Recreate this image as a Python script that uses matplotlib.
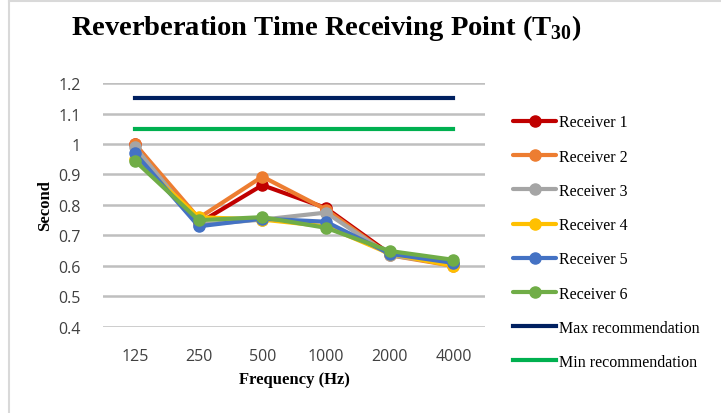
import matplotlib
matplotlib.use("Agg")
import matplotlib.pyplot as plt
from matplotlib.lines import Line2D

# data
frequencies = ["125", "250", "500", "1000", "2000", "4000"]
receiver_1 = [1.00, 0.74, 0.865, 0.79, 0.640, 0.605]
receiver_2 = [1.00, 0.757, 0.893, 0.785, 0.635, 0.600]
receiver_3 = [0.99, 0.735, 0.752, 0.775, 0.635, 0.605]
receiver_4 = [0.95, 0.760, 0.752, 0.730, 0.640, 0.600]
receiver_5 = [0.97, 0.730, 0.755, 0.745, 0.640, 0.610]
receiver_6 = [0.945, 0.750, 0.760, 0.725, 0.649, 0.620]
max_recommendation = 1.15
min_recommendation = 1.05

series = [
    ("Receiver 1", receiver_1, "#C00000"),
    ("Receiver 2", receiver_2, "#ED7D31"),
    ("Receiver 3", receiver_3, "#A5A5A5"),
    ("Receiver 4", receiver_4, "#FFC000"),
    ("Receiver 5", receiver_5, "#4472C4"),
    ("Receiver 6", receiver_6, "#70AD47"),
]

plt.rcParams["mathtext.fontset"] = "custom"
plt.rcParams["mathtext.bf"] = "Liberation Serif:bold"
plt.rcParams["mathtext.rm"] = "Liberation Serif"

fig = plt.figure(figsize=(7.21, 4.14), dpi=100)
# light frame on the left and top edges only, like the source screenshot
fig.add_artist(Line2D([0.013, 0.013], [0.0, 0.995], transform=fig.transFigure,
                      color="#D9D9D9", linewidth=1.5))
fig.add_artist(Line2D([0.013, 1.0], [0.995, 0.995], transform=fig.transFigure,
                      color="#D9D9D9", linewidth=1.5))
ax = fig.add_axes([0.143, 0.208, 0.530, 0.589])

x = list(range(len(frequencies)))
for label, values, color in series:
    ax.plot(x, values, color=color, linewidth=3, marker="o", markersize=8,
            label=label, solid_capstyle="round", zorder=3)
ax.plot(x, [max_recommendation] * len(x), color="#002060", linewidth=3,
        label="Max recommendation", zorder=3)
ax.plot(x, [min_recommendation] * len(x), color="#00B050", linewidth=3,
        label="Min recommendation", zorder=3)

ax.set_xlim(-0.5, len(x) - 0.5)
ax.set_ylim(0.4, 1.2)
ax.set_yticks([0.4, 0.5, 0.6, 0.7, 0.8, 0.9, 1.0, 1.1, 1.2])
ax.set_yticklabels(["0.4", "0.5", "0.6", "0.7", "0.8", "0.9", "1", "1.1", "1.2"])
ax.set_xticks(x)
ax.set_xticklabels(frequencies)
ax.tick_params(length=0, labelsize=11.5, labelcolor="#404040", pad=15)
ax.tick_params(axis="y", pad=16)
for t in ax.get_xticklabels() + ax.get_yticklabels():
    t.set_fontfamily("Open Sans")

ax.grid(axis="y", color="#BFBFBF", linewidth=1.8)
ax.set_axisbelow(True)
for s in ax.spines.values():
    s.set_visible(False)

ax.set_ylabel("Second", fontfamily="Liberation Serif", fontweight="bold", fontsize=12, labelpad=4)
ax.set_xlabel("Frequency (Hz)", fontfamily="Liberation Serif", fontweight="bold", fontsize=12, labelpad=5)

fig.text(0.453, 0.932, r"Reverberation Time Receiving Point (T$_{\mathbf{30}}$)",
         ha="center", va="center", fontfamily="Liberation Serif", fontweight="bold", fontsize=20.5)

leg = ax.legend(loc="upper left", bbox_to_anchor=(1.035, 0.93), frameon=False,
                prop={"family": "Liberation Serif", "size": 11.5},
                handlelength=2.7, handletextpad=0.2, labelspacing=1.14)

fig.savefig("out.png", dpi=100)
